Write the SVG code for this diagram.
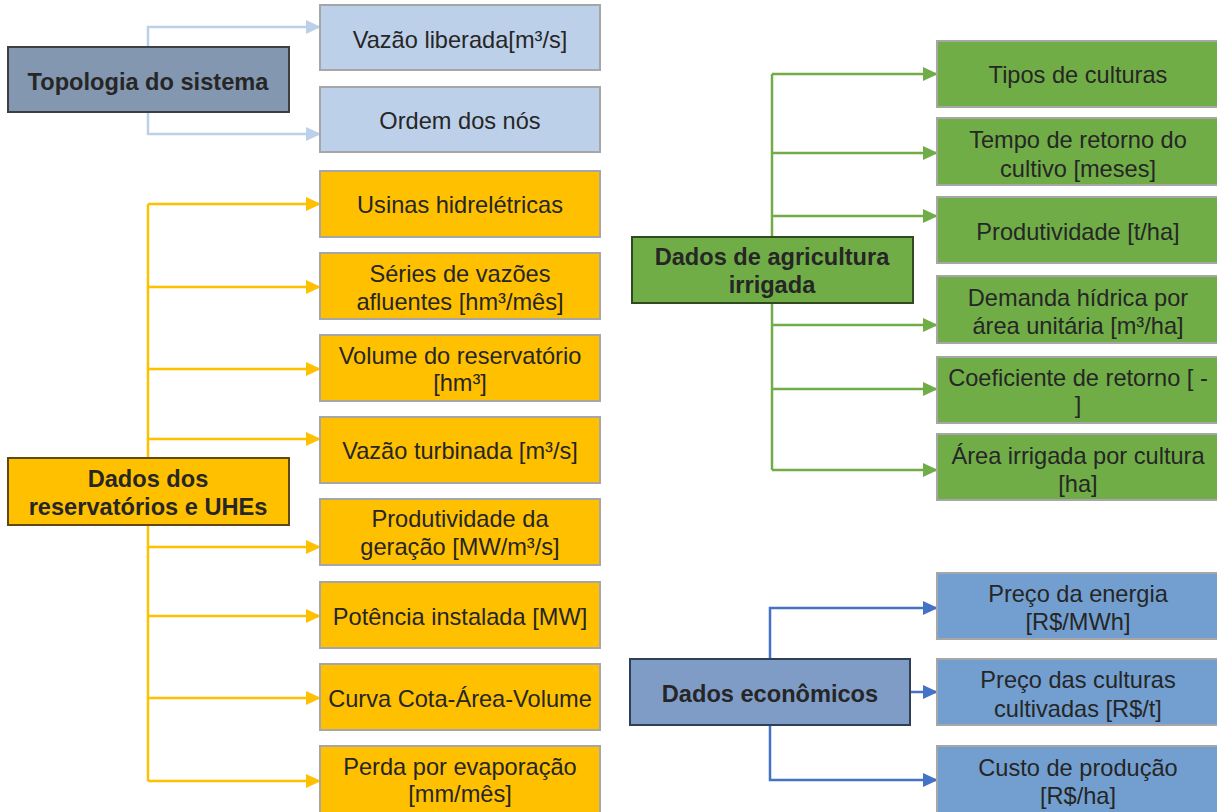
<svg xmlns="http://www.w3.org/2000/svg" width="1217" height="812" viewBox="0 0 1217 812">
<style>
text{font-family:"Liberation Sans",Arial,sans-serif;font-size:23.6px;fill:#262626;text-anchor:middle}
.b{font-weight:bold}
.child{stroke:#A6A6A6;stroke-width:2}
.parent{stroke:#3F3F3F;stroke-width:2}
.ly{fill:#FFC000}.lb{fill:#BDD0E9}.lg{fill:#70AD47}.le{fill:#729FCF}
.c{fill:none;stroke-width:2.5}
</style>
<defs>
<marker id="aB" markerUnits="userSpaceOnUse" markerWidth="16" markerHeight="16" refX="14" refY="8" orient="auto"><path d="M0,1 L15,8 L0,15 Z" fill="#BDD0E9"/></marker>
<marker id="aY" markerUnits="userSpaceOnUse" markerWidth="16" markerHeight="16" refX="14" refY="8" orient="auto"><path d="M0,1 L15,8 L0,15 Z" fill="#FFC000"/></marker>
<marker id="aG" markerUnits="userSpaceOnUse" markerWidth="16" markerHeight="16" refX="14" refY="8" orient="auto"><path d="M0,1 L15,8 L0,15 Z" fill="#70AD47"/></marker>
<marker id="aE" markerUnits="userSpaceOnUse" markerWidth="16" markerHeight="16" refX="14" refY="8" orient="auto"><path d="M0,1 L15,8 L0,15 Z" fill="#4472C4"/></marker>
</defs>
<g id="connectors">
<path class="c" stroke="#BDD0E9" d="M148,47 V27 H320" marker-end="url(#aB)"/>
<path class="c" stroke="#BDD0E9" d="M148,112 V134 H320" marker-end="url(#aB)"/>
<path class="c" stroke="#FFC000" d="M148,458 V204"/>
<path class="c" stroke="#FFC000" d="M148,525 V781"/>
<path class="c" stroke="#FFC000" d="M148,204 H320" marker-end="url(#aY)"/>
<path class="c" stroke="#FFC000" d="M148,287 H320" marker-end="url(#aY)"/>
<path class="c" stroke="#FFC000" d="M148,369 H320" marker-end="url(#aY)"/>
<path class="c" stroke="#FFC000" d="M148,439 H320" marker-end="url(#aY)"/>
<path class="c" stroke="#FFC000" d="M148,547 H320" marker-end="url(#aY)"/>
<path class="c" stroke="#FFC000" d="M148,616 H320" marker-end="url(#aY)"/>
<path class="c" stroke="#FFC000" d="M148,698 H320" marker-end="url(#aY)"/>
<path class="c" stroke="#FFC000" d="M148,781 H320" marker-end="url(#aY)"/>
<path class="c" stroke="#70AD47" d="M772,237 V74"/>
<path class="c" stroke="#70AD47" d="M772,303 V470"/>
<path class="c" stroke="#70AD47" d="M772,74 H937" marker-end="url(#aG)"/>
<path class="c" stroke="#70AD47" d="M772,153 H937" marker-end="url(#aG)"/>
<path class="c" stroke="#70AD47" d="M772,216 H937" marker-end="url(#aG)"/>
<path class="c" stroke="#70AD47" d="M772,325 H937" marker-end="url(#aG)"/>
<path class="c" stroke="#70AD47" d="M772,389 H937" marker-end="url(#aG)"/>
<path class="c" stroke="#70AD47" d="M772,470 H937" marker-end="url(#aG)"/>
<path class="c" stroke="#4472C4" d="M770,659 V608 H937" marker-end="url(#aE)"/>
<path class="c" stroke="#4472C4" d="M910,692 H937" marker-end="url(#aE)"/>
<path class="c" stroke="#4472C4" d="M770,725 V780 H937" marker-end="url(#aE)"/>
</g>
<g id="topologia"><rect x="8" y="47" width="281" height="65" fill="#8497B0" class="parent"/><text class="b" x="148" y="90">Topologia do sistema</text></g>
<g id="vazao-liberada"><rect x="320" y="5" width="280" height="65" class="child lb"/><text x="460" y="48">Vazão liberada[m³/s]</text></g>
<g id="ordem-nos"><rect x="320" y="87" width="280" height="65" class="child lb"/><text x="460" y="129">Ordem dos nós</text></g>
<g id="reservatorios"><rect x="8" y="458" width="281" height="67" fill="#FFC000" stroke="#5E4A10" stroke-width="2"/><text class="b" x="148" y="487">Dados dos</text><text class="b" x="148" y="515">reservatórios e UHEs</text></g>
<g id="usinas"><rect x="320" y="171" width="280" height="66" class="child ly"/><text x="460" y="213">Usinas hidrelétricas</text></g>
<g id="series"><rect x="320" y="253" width="280" height="66" class="child ly"/><text x="460" y="282">Séries de vazões</text><text x="460" y="310">afluentes [hm³/mês]</text></g>
<g id="volume"><rect x="320" y="335" width="280" height="66" class="child ly"/><text x="460" y="364">Volume do reservatório</text><text x="460" y="391">[hm³]</text></g>
<g id="turbinada"><rect x="320" y="417" width="280" height="66" class="child ly"/><text x="460" y="459">Vazão turbinada [m³/s]</text></g>
<g id="produtividade-geracao"><rect x="320" y="499" width="280" height="66" class="child ly"/><text x="460" y="527">Produtividade da</text><text x="460" y="555">geração [MW/m³/s]</text></g>
<g id="potencia"><rect x="320" y="582" width="280" height="66" class="child ly"/><text x="460" y="625">Potência instalada [MW]</text></g>
<g id="curva"><rect x="320" y="664" width="280" height="66" class="child ly"/><text x="460" y="707">Curva Cota-Área-Volume</text></g>
<g id="evaporacao"><rect x="320" y="746" width="280" height="70" class="child ly"/><text x="460" y="775">Perda por evaporação</text><text x="460" y="802">[mm/mês]</text></g>
<g id="agricultura"><rect x="632" y="237" width="281" height="66" fill="#70AD47" stroke="#2E4A1E" stroke-width="2"/><text class="b" x="772" y="265">Dados de agricultura</text><text class="b" x="772" y="293">irrigada</text></g>
<g id="tipos"><rect x="937" y="41" width="284" height="66" class="child lg"/><text x="1078" y="83">Tipos de culturas</text></g>
<g id="tempo"><rect x="937" y="118" width="284" height="67" class="child lg"/><text x="1078" y="148">Tempo de retorno do</text><text x="1078" y="177">cultivo [meses]</text></g>
<g id="produtividade"><rect x="937" y="197" width="284" height="66" class="child lg"/><text x="1078" y="240">Produtividade [t/ha]</text></g>
<g id="demanda"><rect x="937" y="276" width="284" height="67" class="child lg"/><text x="1078" y="306">Demanda hídrica por</text><text x="1078" y="334">área unitária [m³/ha]</text></g>
<g id="coeficiente"><rect x="937" y="357" width="284" height="66" class="child lg"/><text x="1078" y="386">Coeficiente de retorno [ -</text><text x="1078" y="413">]</text></g>
<g id="area"><rect x="937" y="434" width="284" height="66" class="child lg"/><text x="1078" y="464">Área irrigada por cultura</text><text x="1078" y="492">[ha]</text></g>
<g id="economicos"><rect x="630" y="659" width="280" height="66" fill="#7F9CC6" stroke="#2F3F55" stroke-width="2"/><text class="b" x="770" y="702">Dados econômicos</text></g>
<g id="preco-energia"><rect x="937" y="573" width="284" height="66" class="child le"/><text x="1078" y="602">Preço da energia</text><text x="1078" y="630">[R$/MWh]</text></g>
<g id="preco-culturas"><rect x="937" y="659" width="284" height="66" class="child le"/><text x="1078" y="688">Preço das culturas</text><text x="1078" y="717">cultivadas [R$/t]</text></g>
<g id="custo"><rect x="937" y="746" width="284" height="70" class="child le"/><text x="1078" y="776">Custo de produção</text><text x="1078" y="804">[R$/ha]</text></g>
</svg>
